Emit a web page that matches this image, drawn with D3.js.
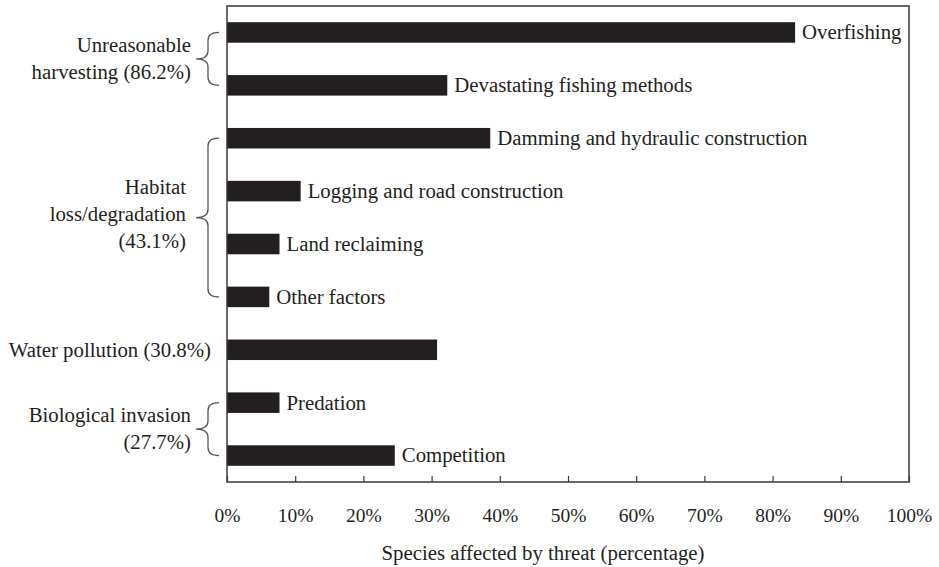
<!DOCTYPE html>
<html><head><meta charset="utf-8">
<script src="https://cdn.jsdelivr.net/npm/d3@7"></script>
<style>body{margin:0;background:#fff}text{font-family:"Liberation Serif","Times New Roman",serif;fill:#231f20}</style>
</head><body><svg id="c" width="939" height="567"></svg>
<script>
const categories = ["Overfishing","Devastating fishing methods","Damming and hydraulic construction","Logging and road construction","Land reclaiming","Other factors","Water pollution","Predation","Competition"];
const values = [83.3, 32.3, 38.6, 10.8, 7.7, 6.2, 30.8, 7.7, 24.6];
const showBarLabel = [true,true,true,true,true,true,false,true,true];
const groupLabels = [["Unreasonable","harvesting (86.2%)"],["Habitat","loss/degradation","(43.1%)"],["Water pollution (30.8%)"],["Biological invasion","(27.7%)"]];
const groupStart = [0,2,6,7];
const groupEnd = [1,5,6,8];
const tickValues = [0,10,20,30,40,50,60,70,80,90,100];

const svg = d3.select("#c");
const L=227, R=909, T=6, B=482, FS=20.8, TFS=19.5;
const x = d3.scaleLinear().domain([0,100]).range([L,R]);
const y = d3.scaleBand().domain(categories).range([T,B]).paddingInner(0.612).paddingOuter(0.306);

svg.selectAll("rect.bar").data(categories).join("rect")
  .attr("x",x(0)).attr("y",d=>y(d)).attr("height",y.bandwidth())
  .attr("width",(d,i)=>x(values[i])-x(0)).attr("fill","#231f20");

svg.selectAll("text.bl").data(categories.filter((d,i)=>showBarLabel[i])).join("text")
  .attr("x",d=>x(values[categories.indexOf(d)])+7).attr("y",d=>y(d)+y.bandwidth()/2)
  .attr("dy","0.33em").attr("font-size",FS).text(d=>d);

// frame
svg.append("rect").attr("x",L).attr("y",T).attr("width",R-L).attr("height",B-T)
  .attr("fill","none").attr("stroke","#3a3a3a").attr("stroke-width",1.5);

// axis
const ax = svg.append("g").attr("transform",`translate(0,${B})`)
  .call(d3.axisBottom(x).tickValues(tickValues).tickSizeInner(-6).tickSizeOuter(0).tickPadding(26).tickFormat(d=>d+"%"));
ax.select(".domain").remove();
ax.selectAll("line").attr("stroke","#3a3a3a").attr("stroke-width",1.2);
ax.selectAll("text").attr("font-size",TFS).attr("font-family",'"Liberation Serif",serif').attr("fill","#231f20");

svg.append("text").attr("x",543).attr("y",553).attr("dy","0.33em").attr("text-anchor","middle")
  .attr("font-size",FS).text("Species affected by threat (percentage)");

// group labels and braces
const lh = 27;
groupLabels.forEach((lines,g)=>{
  const yt = y(categories[groupStart[g]])+y.bandwidth()/2;
  const yb = y(categories[groupEnd[g]])+y.bandwidth()/2;
  const ym = (yt+yb)/2;
  const single = groupStart[g]===groupEnd[g];
  const tx = single?211:(lines.length>2?186:191);
  const t = svg.append("text").attr("text-anchor","end").attr("font-size",FS);
  lines.forEach((s,k)=>{
    t.append("tspan").attr("x",tx).attr("y",ym+(k-(lines.length-1)/2)*lh+(lines.length>2?-3:0)).attr("dy","0.33em").text(s);
  });
  if(!single){
    const xe = 219, xs = 208, xt = 196, r = 8;
    const p = `M${xe},${yt} Q${xs},${yt} ${xs},${yt+r} L${xs},${ym-r} Q${xs},${ym} ${xt},${ym} Q${xs},${ym} ${xs},${ym+r} L${xs},${yb-r} Q${xs},${yb} ${xe},${yb}`;
    svg.append("path").attr("d",p).attr("fill","none").attr("stroke","#555").attr("stroke-width",1.3);
  }
});
</script></body></html>
